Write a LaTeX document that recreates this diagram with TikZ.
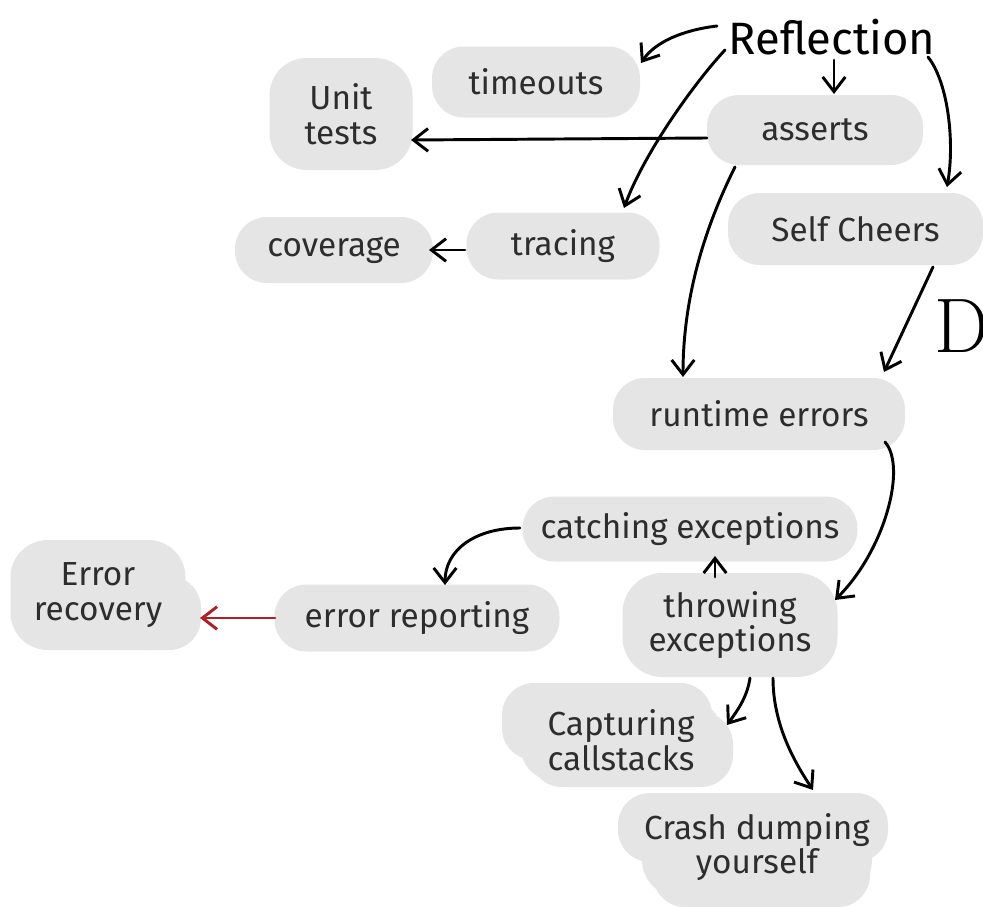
\documentclass[tikz,border=0pt]{standalone}
\usepackage{fontspec}
\newfontfamily\handfont{Fira Sans}
\usetikzlibrary{arrows.meta}
\definecolor{blobgray}{RGB}{229,229,229}
\definecolor{ink}{RGB}{45,45,45}
\definecolor{linkred}{RGB}{176,30,40}
\tikzset{
  blob/.style={fill=blobgray, rounded corners=24pt, inner sep=0pt, align=center,
    text=ink, font=\handfont\fontsize{25}{26}\selectfont},
  sz/.style 2 args={minimum width=0.75pt*#1, minimum height=0.75pt*#2},
  lobe/.style={fill=blobgray, rounded corners=24pt},
  arr/.style={line width=2.2pt, draw=black, line cap=round,
    -{Straight Barb[length=11pt,width=17pt]}},
}
\begin{document}
\begin{tikzpicture}[x=0.75pt, y=-0.75pt]
\fill[white] (0,0) rectangle (983,907);
\useasboundingbox (0,0) rectangle (983,907);

% extra lobes of the lumpy blobs
\fill[lobe] (112,576) rectangle (201,650);
\fill[lobe] (502,683) rectangle (712,760);
\fill[lobe] (530,712) rectangle (733,787);
\fill[lobe] (618,793) rectangle (888,862);
\fill[lobe] (653,830) rectangle (870,907);

% title
\node[inner sep=0pt, text=black, font=\handfont\fontsize{34}{36}\selectfont]
  (refl) at (832,37) {Reflection};

% topics
\node[blob, sz={208}{71}] (timeouts) at (536,82) {timeouts};
\node[blob, sz={143}{112}, rounded corners=28pt] (unit) at (341,114) {Unit\\tests};
\node[blob, sz={216}{70}] (asserts) at (815,130) {asserts};
\node[blob, sz={255}{72}] (self) at (855.5,229) {Self Cheers};
\node[blob, sz={198}{66}] (coverage) at (334,250) {coverage};
\node[blob, sz={193}{67}] (tracing) at (563,246) {tracing};
\node[blob, sz={292}{72}] (runtime) at (759,414) {runtime errors};
\node[blob, sz={335}{65}] (catching) at (690,529) {catching exceptions};
\node[blob, sz={215}{104}, rounded corners=30pt] (throwing) at (730,625) {throwing\\exceptions};
\node[blob, sz={285}{67}] (reporting) at (417,618) {error reporting};
\node[blob, sz={175}{110}, rounded corners=28pt] (recovery) at (98,595) {Error\\recovery};
\node[blob, sz={200}{80}] (capturing) at (621,740) {Capturing\\callstacks};
\node[blob, sz={230}{100}, rounded corners=28pt] (crash) at (757,847) {Crash dumping\\yourself};

% side mark
\node[anchor=base west, inner sep=0pt, text=black, font=\fontsize{58}{60}\selectfont]
  (dmark) at (934,352) {D};

% connectors
\draw[arr] ([shift={(-115,-11)}]refl.center) .. controls +(-34,4) and +(14,-21)
  .. ([shift={(105,-19)}]timeouts.center);
\draw[arr] ([shift={(2,23)}]refl.center) -- ([shift={(19,-36)}]asserts.center);
\draw[arr] ([shift={(-107,13)}]refl.center) .. controls +(-30,32) and +(20,-55)
  .. ([shift={(61,-38)}]tracing.center);
\draw[arr] ([shift={(96,20)}]refl.center) .. controls +(20,25) and +(8,-45)
  .. ([shift={(91.5,-42)}]self.center);
\draw[arr] ([shift={(-108,8)}]asserts.center) -- ([shift={(70,26)}]unit.center);
\draw[arr] ([shift={(-80,37)}]asserts.center) .. controls +(-30,60) and +(0,-80)
  .. ([shift={(-76,-37)}]runtime.center);
\draw[arr] ([shift={(77.5,38)}]self.center) -- ([shift={(125,-42)}]runtime.center);
\draw[arr] ([shift={(-98,4)}]tracing.center) -- ([shift={(95,0)}]coverage.center);
\draw[arr] ([shift={(126,28)}]runtime.center) .. controls +(22,25) and +(50,-50)
  .. ([shift={(105,-25)}]throwing.center);
\draw[arr] ([shift={(-15,-48)}]throwing.center) -- ([shift={(25,27)}]catching.center);
\draw[arr] ([shift={(-170,-1)}]catching.center) .. controls +(-45,0) and +(0,-35)
  .. ([shift={(28,-33)}]reporting.center);
\draw[arr, draw=linkred] ([shift={(-142,0)}]reporting.center) -- ([shift={(102,23)}]recovery.center);
\draw[arr] ([shift={(20,53)}]throwing.center) .. controls +(-3,20) and +(10,-14)
  .. ([shift={(106,-15)}]capturing.center);
\draw[arr] ([shift={(43,53)}]throwing.center) .. controls +(0,45) and +(-20,-30)
  .. ([shift={(56,-57)}]crash.center);
\end{tikzpicture}
\end{document}
